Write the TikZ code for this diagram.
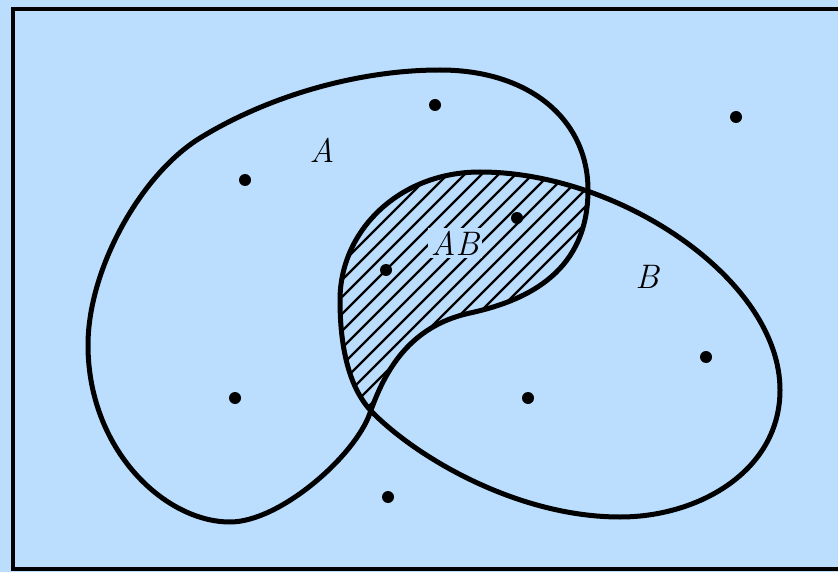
\documentclass[tikz,border=0pt]{standalone}
\definecolor{bgblue}{RGB}{187,222,254}
\tikzset{
  curve/.style={line width=5pt, line join=round},
  hatch/.style={line width=2.2pt},
  pt/.style={circle, fill=black, inner sep=0pt, minimum size=12pt},
  lab/.style={font=\fontsize{34}{36}\selectfont\itshape, inner sep=1pt},
  frame/.style={line width=3.5pt}
}
\begin{document}
\begin{tikzpicture}[x=1pt,y=-1pt]
\fill[bgblue] (0,0) rectangle (838,572);
\useasboundingbox (0,0) rectangle (838,572);
% hatching of the intersection
\begin{scope}
  \clip (440,70) .. controls (530,70) and (588,120) .. (588,190)
        .. controls (588,270) and (530,300) .. (470,313)
        .. controls (410,326) and (385,370) .. (370,413)
        .. controls (355,456) and (280,522) .. (230,522)
        .. controls (165,522) and (88,450) .. (88,345)
        .. controls (88,270) and (140,175) .. (200,138)
        .. controls (270,95) and (360,70) .. (440,70) -- cycle;
  \clip (480,172) .. controls (620,172) and (780,280) .. (780,390)
        .. controls (780,470) and (700,517) .. (620,517)
        .. controls (520,517) and (420,460) .. (373,413)
        .. controls (350,390) and (340,350) .. (340,300)
        .. controls (340,230) and (400,172) .. (480,172) -- cycle;
  \foreach \c in {520,537,...,820} {
    \draw[hatch] (\c-160,160) -- (\c-460,460);
  }
\end{scope}
% the label AB blanks the hatching around it
\node[lab, fill=bgblue, inner sep=3pt] (ab) at (455,243) {AB};
% set A
\draw[curve] (440,70) .. controls (530,70) and (588,120) .. (588,190)
        .. controls (588,270) and (530,300) .. (470,313)
        .. controls (410,326) and (385,370) .. (370,413)
        .. controls (355,456) and (280,522) .. (230,522)
        .. controls (165,522) and (88,450) .. (88,345)
        .. controls (88,270) and (140,175) .. (200,138)
        .. controls (270,95) and (360,70) .. (440,70) -- cycle;
% set B
\draw[curve] (480,172) .. controls (620,172) and (780,280) .. (780,390)
        .. controls (780,470) and (700,517) .. (620,517)
        .. controls (520,517) and (420,460) .. (373,413)
        .. controls (350,390) and (340,350) .. (340,300)
        .. controls (340,230) and (400,172) .. (480,172) -- cycle;
% frame (open on the right)
\draw[frame] (838,9) -- (13,9) -- (13,569) -- (838,569);
% labels
\node[lab] (la) at (322,150) {A};
\node[lab] (lb) at (647,277) {B};
% points
\node[pt] (p1) at (435,105) {};
\node[pt] (p2) at (736,117) {};
\node[pt] (p3) at (245,180) {};
\node[pt] (p4) at (517,218) {};
\node[pt] (p5) at (386,270) {};
\node[pt] (p6) at (706,357) {};
\node[pt] (p7) at (235,398) {};
\node[pt] (p8) at (528,398) {};
\node[pt] (p9) at (388,497) {};
\end{tikzpicture}
\end{document}
